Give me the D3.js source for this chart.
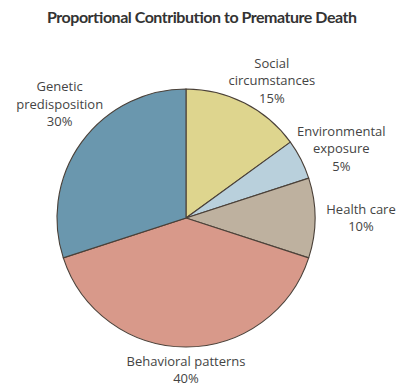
<!DOCTYPE html>
<html>
<head>
<meta charset="utf-8">
<script src="https://cdn.jsdelivr.net/npm/d3@7"></script>
<style>
body { margin: 0; background: #fff; }
text { font-family: "Open Sans", sans-serif; }
</style>
</head>
<body>
<script>
// data
var categories = ["Social circumstances", "Environmental exposure", "Health care", "Behavioral patterns", "Genetic predisposition"];
var shares = [15, 5, 10, 40, 30];
var labelLines = [
  ["Social", "circumstances", "15%"],
  ["Environmental", "exposure", "5%"],
  ["Health care", "10%"],
  ["Behavioral patterns", "40%"],
  ["Genetic", "predisposition", "30%"]
];
var colors = ["#ded58e", "#b9d0dc", "#beb19f", "#d8998a", "#6a97ae"];

// label placement (radius from centre, angle nudge in degrees)
var labelRadius = [162, 170, 175, 152, 170];
var labelNudge = [5, 3, 0, 0, 6];

var width = 408, height = 391;
var cx = 186, cy = 218, r = 129;

var svg = d3.select("body")
  .append("svg")
  .attr("width", width)
  .attr("height", height);

svg.append("text")
  .attr("x", 202)
  .attr("y", 23)
  .attr("text-anchor", "middle")
  .attr("textLength", 310)
  .style("font-family", "Lato, sans-serif")
  .style("font-size", "16px")
  .style("font-weight", "bold")
  .style("fill", "#333")
  .text("Proportional Contribution to Premature Death");

var pie = d3.pie().sort(null).value(function(d) { return d; });
var arcs = pie(shares);
var arc = d3.arc().innerRadius(0).outerRadius(r);

var g = svg.append("g").attr("transform", "translate(" + cx + "," + cy + ")");

g.selectAll("path")
  .data(arcs)
  .enter().append("path")
  .attr("d", arc)
  .attr("fill", function(d, i) { return colors[i]; })
  .style("stroke", "#4a4038")
  .style("stroke-width", 1.1);

var labels = g.selectAll("text.lab")
  .data(arcs)
  .enter().append("text")
  .attr("class", "lab")
  .attr("text-anchor", "middle")
  .style("font-size", "13px")
  .style("fill", "#444")
  .attr("transform", function(d, i) {
    var a = (d.startAngle + d.endAngle) / 2 + labelNudge[i] * Math.PI / 180;
    var R = labelRadius[i];
    var n = labelLines[i].length;
    var x = R * Math.sin(a), y = -R * Math.cos(a) - (n - 1) * 17.5 / 2 + 4.5;
    return "translate(" + x + "," + y + ")";
  });

labels.selectAll("tspan")
  .data(function(d, i) { return labelLines[i]; })
  .enter().append("tspan")
  .attr("x", 0)
  .attr("dy", function(d, j) { return j === 0 ? 0 : 17.5; })
  .text(function(d) { return d; });
</script>
</body>
</html>
